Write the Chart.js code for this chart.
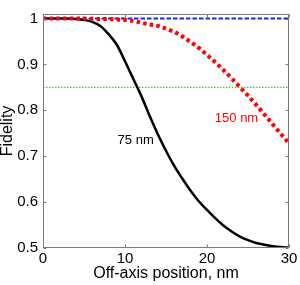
<!DOCTYPE html>
<html>
<head>
<meta charset="utf-8">
<script src="https://cdn.jsdelivr.net/npm/chart.js@4.4.1/dist/chart.umd.min.js"></script>
<style>
  html, body { margin: 0; padding: 0; background: #fff; }
  #wrap { width: 300px; height: 285px; }
</style>
</head>
<body>
<div id="wrap"><canvas id="myChart" width="300" height="285"></canvas></div>
<script>
// values
const positions = [0, 1, 2, 3, 4, 5, 6, 7, 8, 9, 10, 11, 12, 13, 14, 15,
  16, 17, 18, 19, 20, 21, 22, 23, 24, 25, 26, 27, 28, 29, 30];
const fid75 = [1.0, 1.0, 1.0, 1.0, 0.999, 0.997, 0.993, 0.984, 0.966, 0.943, 0.907,
  0.869, 0.831, 0.788, 0.748, 0.712, 0.679, 0.651, 0.625, 0.602, 0.583,
  0.565, 0.549, 0.536, 0.525, 0.517, 0.511, 0.507, 0.504, 0.502, 0.501];
const fid150 = [1.0, 1.0, 1.0, 1.0, 1.0, 1.0, 0.9995, 0.999, 0.999, 0.998, 0.997,
  0.995, 0.991, 0.987, 0.984, 0.978, 0.971, 0.961, 0.949, 0.936, 0.921,
  0.905, 0.888, 0.87, 0.851, 0.832, 0.812, 0.791, 0.77, 0.749, 0.728];
const refX = [0, 30];
const fidIdeal = [1, 1];
const fidThreshold = [0.85, 0.85];
const xTicks = [0, 10, 20, 30];
const yTicks = [0.5, 0.6, 0.7, 0.8, 0.9, 1];
const yTickLabels = ['0.5', '0.6', '0.7', '0.8', '0.9', '1'];
const curveLabels = [
  { text: '75 nm', x: 11.3, y: 0.734, color: '#000000' },
  { text: '150 nm', x: 23.6, y: 0.782, color: '#ff0000' }
];

const FONT = "'Liberation Sans', Arial, sans-serif";
const toPoints = (xs, ys) => xs.map((x, i) => ({ x: x, y: ys[i] }));

// MATLAB-style box with inward ticks, plus the curve labels
const boxPlugin = {
  id: 'box',
  afterDatasetsDraw(chart) {
    const { ctx, chartArea: a, scales: { x, y } } = chart;
    ctx.save();
    // labels
    ctx.font = '13px ' + FONT;
    ctx.textAlign = 'center';
    ctx.textBaseline = 'middle';
    curveLabels.forEach(l => {
      ctx.fillStyle = l.color;
      ctx.fillText(l.text, x.getPixelForValue(l.x), y.getPixelForValue(l.y));
    });
    // frame
    ctx.strokeStyle = '#7a7a7a';
    ctx.lineWidth = 1;
    const L = Math.round(a.left) + 0.5, R = Math.round(a.right) - 0.5;
    const T = Math.round(a.top) + 0.5, B = Math.round(a.bottom) - 0.5;
    ctx.strokeRect(L, T, R - L, B - T);
    ctx.beginPath();
    xTicks.forEach(v => {
      const px = Math.round(x.getPixelForValue(v)) + 0.5;
      ctx.moveTo(px, B); ctx.lineTo(px, B - 3);
      ctx.moveTo(px, T); ctx.lineTo(px, T + 3);
    });
    yTicks.forEach(v => {
      const py = Math.round(y.getPixelForValue(v)) + 0.5;
      ctx.moveTo(L, py); ctx.lineTo(L + 3, py);
      ctx.moveTo(R, py); ctx.lineTo(R - 3, py);
    });
    ctx.stroke();
    ctx.restore();
  }
};

const ctx = document.getElementById('myChart').getContext('2d');
new Chart(ctx, {
  type: 'line',
  data: {
    datasets: [{
      label: '150 nm',
      data: toPoints(positions, fid150),
      borderColor: '#ff0000',
      borderWidth: 4,
      borderDash: [3.5, 3.2],
      borderCapStyle: 'butt',
      cubicInterpolationMode: 'monotone',
      pointRadius: 0,
      fill: false
    }, {
      label: 'ideal',
      data: toPoints(refX, fidIdeal),
      borderColor: 'rgb(20, 40, 240)',
      borderWidth: 2,
      borderDash: [4.5, 2],
      pointRadius: 0,
      fill: false
    }, {
      label: '75 nm',
      data: toPoints(positions, fid75),
      borderColor: '#000000',
      borderWidth: 2.5,
      cubicInterpolationMode: 'monotone',
      pointRadius: 0,
      fill: false
    }, {
      label: 'threshold',
      data: toPoints(refX, fidThreshold),
      borderColor: 'rgb(60, 200, 60)',
      borderWidth: 1.2,
      borderDash: [1.5, 1.5],
      pointRadius: 0,
      fill: false
    }]
  },
  options: {
    responsive: false,
    animation: false,
    layout: { padding: { top: 2, right: 11, left: 0, bottom: 0 } },
    plugins: { legend: { display: false }, tooltip: { enabled: false } },
    scales: {
      x: {
        type: 'linear',
        min: 0,
        max: 30,
        afterBuildTicks: s => { s.ticks = xTicks.map(v => ({ value: v })); },
        afterFit: s => { s.height = 37; },
        grid: { display: false, drawTicks: false },
        border: { display: false },
        ticks: { color: '#000', padding: 2, maxRotation: 0, font: { family: FONT, size: 15 } },
        title: {
          display: true,
          text: 'Off-axis position, nm',
          color: '#000',
          padding: { top: 0, bottom: 2 },
          font: { family: FONT, size: 16 }
        }
      },
      y: {
        min: 0.5,
        max: 1.01,
        afterBuildTicks: s => { s.ticks = yTicks.map(v => ({ value: v })); },
        afterFit: s => { s.width = 43; },
        grid: { display: false, drawTicks: false },
        border: { display: false },
        ticks: {
          color: '#000',
          padding: 5,
          font: { family: FONT, size: 15 },
          callback: v => yTickLabels[yTicks.indexOf(v)]
        },
        title: {
          display: true,
          text: 'Fidelity',
          color: '#000',
          padding: { top: -2, bottom: 0 },
          font: { family: FONT, size: 16 }
        }
      }
    }
  },
  plugins: [boxPlugin]
});
</script>
</body>
</html>
